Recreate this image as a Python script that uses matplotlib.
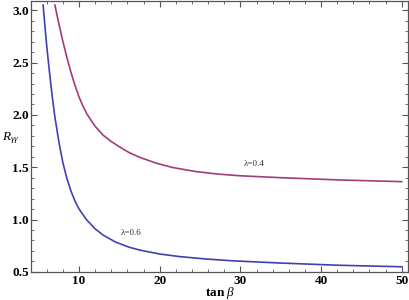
import matplotlib
matplotlib.use("Agg")
import matplotlib.pyplot as plt
from matplotlib.ticker import MultipleLocator, FormatStrFormatter

# values (tan beta vs R_gamma gamma)
tanb_06 = [5.54, 5.8, 6.0, 6.3, 6.65, 7.0, 7.5, 8.0, 8.5, 9.0, 9.5, 10.0, 10.9,
           12.0, 13.0, 14.5, 16.2, 17.5, 20.0, 22.5, 25.8, 29.0, 34.9, 42.0, 50.0]
r_06 = [3.05, 2.82, 2.65, 2.43, 2.19, 1.98, 1.74, 1.54, 1.39, 1.27, 1.175, 1.10, 1.00,
        0.91, 0.85, 0.785, 0.735, 0.708, 0.67, 0.645, 0.622, 0.605, 0.584, 0.563, 0.548]

tanb_04 = [7.0, 7.5, 8.0, 8.5, 9.0, 9.5, 10.0, 10.5, 11.0, 12.0, 13.0, 14.0, 15.0,
           16.2, 17.5, 19.5, 21.6, 24.5, 27.4, 30.0, 34.9, 42.3, 50.0]
r_04 = [3.05, 2.87, 2.70, 2.545, 2.405, 2.28, 2.17, 2.08, 2.005, 1.89, 1.805, 1.745, 1.695,
        1.64, 1.595, 1.54, 1.497, 1.458, 1.433, 1.418, 1.40, 1.378, 1.362]

labels = ["\u03bb=0.6", "\u03bb=0.4"]
label_pos = [(15.2, 0.87), (30.4, 1.53)]

plt.rcParams['font.family'] = ['Liberation Serif', 'DejaVu Serif']
plt.rcParams['mathtext.fontset'] = 'custom'
plt.rcParams['mathtext.rm'] = 'Liberation Serif'
plt.rcParams['mathtext.it'] = 'Liberation Serif:italic'
plt.rcParams['mathtext.bf'] = 'Liberation Serif:bold'

fig = plt.figure(figsize=(4.09, 3.0), dpi=100)
ax = fig.add_axes([0.077, 0.094, 0.921, 0.903])

ax.plot(tanb_06, r_06, color='#4040b0', lw=1.2)
ax.plot(tanb_04, r_04, color='#a03c78', lw=1.2)

for text, (tx, ty) in zip(labels, label_pos):
    ax.text(tx, ty, text, fontsize=6.5, color='#333333', va='center', ha='left')

ax.set_xlim(4.1, 50.8)
ax.set_ylim(0.5, 3.09)

ax.xaxis.set_major_locator(MultipleLocator(10))
ax.xaxis.set_minor_locator(MultipleLocator(2))
ax.yaxis.set_major_locator(MultipleLocator(0.5))
ax.yaxis.set_minor_locator(MultipleLocator(0.1))
ax.tick_params(which='both', direction='in', top=True, right=True, color='#555555')
ax.tick_params(which='major', length=4, width=0.8, labelsize=9.5, pad=2)
ax.tick_params(which='minor', length=2, width=0.6)
ax.yaxis.set_major_formatter(FormatStrFormatter('%.1f'))
for lab in ax.get_xticklabels() + ax.get_yticklabels():
    lab.set_fontweight('bold')
for sp in ax.spines.values():
    sp.set_color('#555555')
    sp.set_linewidth(0.9)

ax.set_xlabel(r'$\mathbf{tan}\ \beta$', fontsize=9.5, labelpad=-1)
fig.text(0.005, 0.54, r'$R_{\gamma\gamma}$', fontsize=9.5, ha='left', va='center')

fig.savefig('out.png', dpi=100)
